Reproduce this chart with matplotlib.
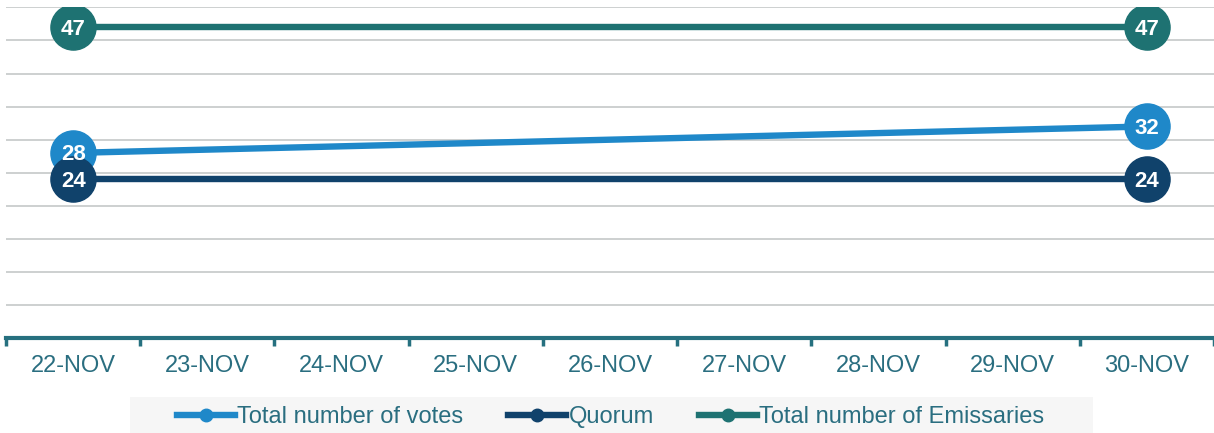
import numpy as np
import matplotlib
matplotlib.use("Agg")
import matplotlib.pyplot as plt
from matplotlib.patches import Rectangle

plt.rcParams["font.family"] = ["Liberation Sans", "DejaVu Sans"]

days = ["22-NOV", "23-NOV", "24-NOV", "25-NOV", "26-NOV", "27-NOV", "28-NOV", "29-NOV", "30-NOV"]
votes = [28, None, None, None, None, None, None, None, 32]
quorum = [24, None, None, None, None, None, None, None, 24]
emissaries = [47, None, None, None, None, None, None, None, 47]

series = [
    ("Total number of votes", votes, "#1f88c9"),
    ("Quorum", quorum, "#10426b"),
    ("Total number of Emissaries", emissaries, "#1e7272"),
]

TEXT = "#2a6e80"

fig = plt.figure(figsize=(12.14, 4.33), dpi=100)
ax = fig.add_axes([0.005, 0.219, 0.995, 0.764])

for name, vals, color in series:
    xs = [i for i, v in enumerate(vals) if v is not None]
    ys = [v for v in vals if v is not None]
    ax.plot(xs, ys, color=color, linewidth=4.6, solid_capstyle="butt", zorder=3)
    ax.plot(xs, ys, linestyle="none", marker="o", markersize=32.5, color=color, zorder=4)
    for x, y in zip(xs, ys):
        ax.text(x, y - 0.3, str(y), ha="center", va="center", color="white",
                fontsize=16, fontweight="bold", zorder=5)
    # legend proxy
    ax.plot([], [], color=color, linewidth=4.6, marker="o", markersize=9, label=name)

ax.set_xlim(-0.5, len(days) - 0.5)
ax.set_ylim(0, 50)
ax.set_yticks(np.arange(0, 51, 5))
ax.yaxis.grid(True, color="#c9cdcd", linewidth=1.3)
ax.set_axisbelow(True)
ax.tick_params(axis="y", left=False, labelleft=False)

ax.set_xticks(range(len(days)))
ax.set_xticklabels(days, fontsize=17, color=TEXT)
ax.set_xticks(np.arange(-0.5, len(days), 1), minor=True)
ax.tick_params(axis="x", which="major", length=0, pad=12)
ax.tick_params(axis="x", which="minor", length=6, width=2.5, color="#26707f", direction="out")

for s in ["top", "right", "left"]:
    ax.spines[s].set_visible(False)
ax.spines["bottom"].set_color("#26707f")
ax.spines["bottom"].set_linewidth(3)

# legend background band (wider than the legend itself)
fig.patches.append(Rectangle((130 / 1214, 0), (1093 - 130) / 1214, 36 / 433,
                             transform=fig.transFigure, facecolor="#f6f6f6",
                             edgecolor="none", zorder=0))

leg = fig.legend(loc="center", bbox_to_anchor=(0.503, 0.037), ncol=3, fontsize=17,
                 frameon=False, handlelength=2.45, handletextpad=0.1,
                 columnspacing=1.9, borderpad=0.3)
for t in leg.get_texts():
    t.set_color(TEXT)

fig.savefig("out.png", dpi=100, facecolor="white")
